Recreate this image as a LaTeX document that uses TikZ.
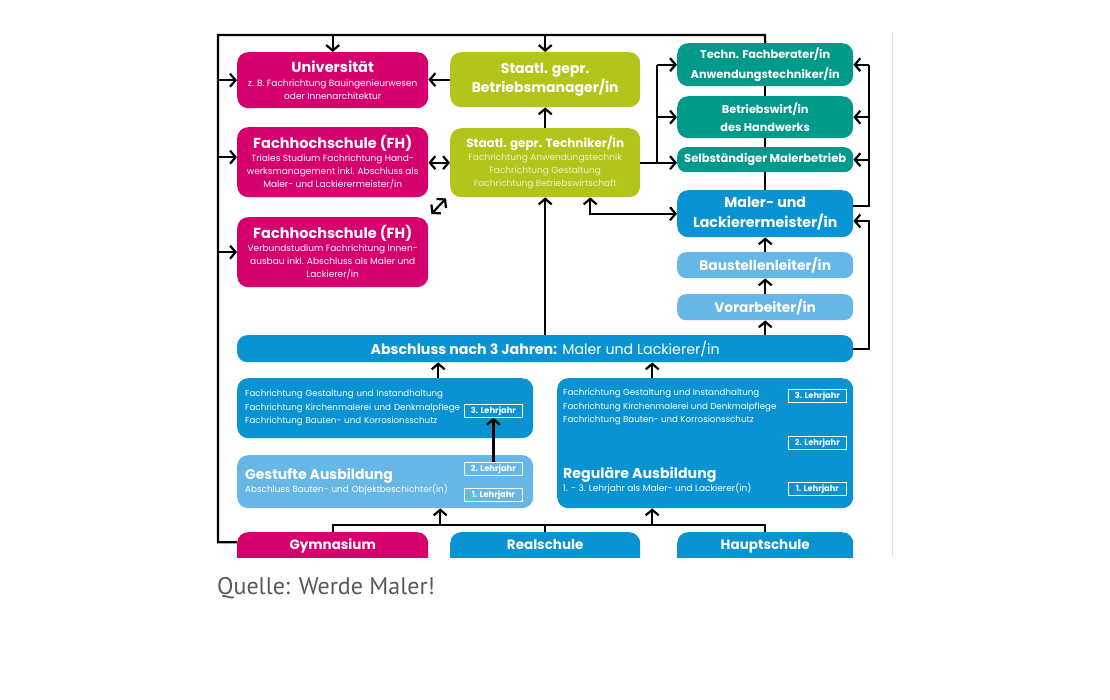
\documentclass[tikz,border=0pt]{standalone}
\usepackage{fontspec}
\setmainfont{Poppins}
\newfontfamily\quellefont{PT Sans}
\usetikzlibrary{arrows.meta}
\usetikzlibrary{positioning}
\definecolor{fhpink}{HTML}{D5006E}
\definecolor{gepgreen}{HTML}{B3C51B}
\definecolor{gepfaint}{HTML}{EEF3C6}
\definecolor{jobteal}{HTML}{009A8B}
\definecolor{azblue}{HTML}{0A93D2}
\definecolor{lightaz}{HTML}{66B7E6}
\definecolor{quellegray}{HTML}{58595B}
\newcommand{\boxtitle}{\fontsize{14.5}{17}\selectfont\bfseries}
\newcommand{\boxsmall}{\fontsize{9}{13}\selectfont}
\tikzset{%
  box/.style = {rectangle,rounded corners=11pt,anchor=north west,
        inner sep=0pt,align=center,text=white},
  pinkbox/.style = {box,fill=fhpink,font=\boxsmall},
  greenbox/.style = {box,fill=gepgreen},
  tealbox/.style = {box,fill=jobteal},
  bluebox/.style = {box,fill=azblue},
  lightbox/.style = {box,fill=lightaz},
  school/.style = {box,text height=17pt,text depth=23pt,
        font=\fontsize{13.5}{15}\selectfont\bfseries},
  jahr/.style = {rectangle,draw=white,line width=0.8pt,anchor=north west,
        inner sep=0pt,minimum width=58pt,minimum height=13pt,text=white,
        font=\fontsize{8.3}{9}\selectfont\bfseries},
  link/.style = {line width=2.2pt,black},
  arr/.style = {link,-{Straight Barb[length=5.5pt,width=13pt]}},
  darr/.style = {link,{Straight Barb[length=5.5pt,width=13pt]}-{Straight Barb[length=5.5pt,width=13pt]}}
}
\begin{document}
\begin{tikzpicture}[x=1pt,y=-1pt]
  \useasboundingbox[fill=white] (0,0) rectangle (1110,700);
  \draw[black!12,line width=0.8pt] (892,32) -- (892,557);
  % left column
  \node[pinkbox,minimum width=191pt,minimum height=56pt] (uni) at (237,52)
    {{\boxtitle Universität}\\[1pt]
     z. B. Fachrichtung Bauingenieurwesen\\oder Innenarchitektur};
  \node[pinkbox,minimum width=191pt,minimum height=70pt] (fh1) at (237,127)
    {{\boxtitle Fachhochschule (FH)}\\
     Triales Studium Fachrichtung Hand-\\
     werksmanagement inkl. Abschluss als\\Maler- und Lackierermeister/in};
  \node[pinkbox,minimum width=191pt,minimum height=70pt] (fh2) at (237,217)
    {{\boxtitle Fachhochschule (FH)}\\
     Verbundstudium Fachrichtung Innen-\\
     ausbau inkl. Abschluss als Maler und\\Lackierer/in};
  % middle column
  \node[greenbox,minimum width=190pt,minimum height=55pt,
    font=\fontsize{14}{19}\selectfont\bfseries] (manager) at (450,52)
    {Staatl. gepr.\\Betriebsmanager/in};
  \node[greenbox,minimum width=190pt,minimum height=69pt,text=gepfaint,
    font=\fontsize{9}{13}\selectfont] (tech) at (450,128)
    {{\color{white}\fontsize{12}{15}\selectfont\bfseries Staatl. gepr. Techniker/in}\\
     Fachrichtung Anwendungstechnik\\
     Fachrichtung Gestaltung\\
     Fachrichtung Betriebswirtschaft};
  % right column
  \node[tealbox,minimum width=176pt,minimum height=43pt,
    font=\fontsize{11.3}{19.5}\selectfont\bfseries] (fachb) at (677,43)
    {Techn. Fachberater/in\\Anwendungstechniker/in};
  \node[tealbox,minimum width=176pt,minimum height=42pt,
    font=\fontsize{11.3}{18}\selectfont\bfseries] (bwirt) at (677,96)
    {Betriebswirt/in\\des Handwerks};
  \node[tealbox,rounded corners=9pt,minimum width=176pt,minimum height=25pt,
    font=\fontsize{11.5}{13}\selectfont\bfseries] (selbst) at (677,147)
    {Selbständiger Malerbetrieb};
  \node[bluebox,minimum width=176pt,minimum height=47pt,
    font=\fontsize{14.2}{20}\selectfont\bfseries] (meister) at (677,190)
    {Maler- und\\Lackierermeister/in};
  \node[lightbox,rounded corners=9pt,minimum width=176pt,minimum height=26pt,
    font=\fontsize{13.8}{15}\selectfont\bfseries] (baust) at (677,252)
    {Baustellenleiter/in};
  \node[lightbox,rounded corners=9pt,minimum width=176pt,minimum height=26pt,
    font=\fontsize{13.8}{15}\selectfont\bfseries] (vorarb) at (677,294)
    {Vorarbeiter/in};
  \node[bluebox,rounded corners=10pt,minimum width=616pt,minimum height=27pt,
    font=\fontsize{14.2}{16}\selectfont] (abschl) at (237,335)
    {\textbf{Abschluss nach 3 Jahren:} Maler und Lackierer/in};
  % training
  \node[bluebox,align=left,text width=280pt,inner xsep=8pt,minimum height=60pt,
    font=\fontsize{8.7}{13.5}\selectfont] (gestTop) at (237,378)
    {Fachrichtung Gestaltung und Instandhaltung\\
     Fachrichtung Kirchenmalerei und Denkmalpflege\\
     Fachrichtung Bauten- und Korrosionsschutz};
  \node[lightbox,align=left,text width=280pt,inner xsep=8pt,minimum height=53pt,
    font=\fontsize{8.8}{12}\selectfont] (gestBot) at (237,455)
    {{\fontsize{14}{16}\selectfont\bfseries Gestufte Ausbildung}\\
     Abschluss Bauten- und Objektbeschichter(in)};
  \node[bluebox,minimum width=296pt,minimum height=130pt] (reg) at (557,378) {};
  \node[anchor=north west,inner sep=0pt,align=left,text=white,
    font=\fontsize{8.7}{13.5}\selectfont] (regText) at (563,389)
    {Fachrichtung Gestaltung und Instandhaltung\\
     Fachrichtung Kirchenmalerei und Denkmalpflege\\
     Fachrichtung Bauten- und Korrosionsschutz};
  \node[anchor=north west,inner sep=0pt,align=left,text=white,
    font=\fontsize{9}{12}\selectfont] (regTitle) at (563,467)
    {{\fontsize{14.2}{16}\selectfont\bfseries Reguläre Ausbildung}\\
     1. - 3. Lehrjahr als Maler- und Lackierer(in)};
  \node[jahr] (j3g) at (464,404) {3. Lehrjahr};
  \node[jahr] (j2g) at (464,462) {2. Lehrjahr};
  \node[jahr] (j1g) at (464,488) {1. Lehrjahr};
  \node[jahr] (j3r) at (788,389) {3. Lehrjahr};
  \node[jahr] (j2r) at (788,436) {2. Lehrjahr};
  \node[jahr] (j1r) at (788,482) {1. Lehrjahr};
  % schools, cut at the lower edge
  \begin{scope}
    \clip (0,0) rectangle (1110,557);
    \node[school,fill=fhpink,minimum width=191pt] (gym) at (237,532) {Gymnasium};
    \node[school,fill=azblue,minimum width=190pt] (real) at (450,532) {Realschule};
    \node[school,fill=azblue,minimum width=176pt] (haupt) at (677,532) {Hauptschule};
  \end{scope}
  \node[anchor=base west,inner sep=0pt,text=quellegray,
    font=\quellefont\fontsize{24}{26}\selectfont] (quelle) at (217,594)
    {Quelle: Werde Maler!};
  % connectors
  \coordinate (tl) at (218,35);
  \coordinate (tr) at (765,35);
  \coordinate (tj) at (657,0);
  \coordinate (rj) at (869,0);
  \coordinate (rm) at (869,221);
  \coordinate (bus) at (0,525);
  \coordinate (fh1in) at ([yshift=5pt]fh1.west);
  \coordinate (gymout) at ([yshift=10pt]gym.west);
  \draw[link] (gymout) -| (tl) -- (tr) -- (fachb.north);
  \draw[arr] (tl -| uni.north) -- (uni.north);
  \draw[arr] (tl -| manager.north) -- (manager.north);
  \draw[arr] (tl |- uni.west) -- (uni.west);
  \draw[arr] (tl |- fh1in) -- (fh1in);
  \draw[arr] (tl |- fh2.west) -- (fh2.west);
  \draw[link] (fachb.south) -- (bwirt.north);
  \draw[link] (bwirt.south) -- (selbst.north);
  \draw[link] (selbst.south) -- (meister.north);
  \draw[arr] (manager.west) -- (manager.west -| uni.east);
  \draw[arr] (tech.north) -- (manager.south);
  \draw[darr] (fh1.east |- tech.west) -- (tech.west);
  \draw[darr] ([shift={(3pt,3pt)}]fh2.north east) -- ([shift={(-4pt,-1pt)}]tech.south west);
  \draw[arr] (tech.east) -- (tech.east -| selbst.west);
  \draw[link] (tj |- tech.east) -- (tj |- fachb.west);
  \draw[arr] (tj |- fachb.west) -- (fachb.west);
  \draw[arr] (tj |- bwirt.west) -- (bwirt.west);
  \draw[darr] ([xshift=45pt]tech.south) |- (meister.west);
  \draw[arr] (abschl.north) -- (tech.south);
  \draw[arr] (abschl.north -| vorarb.south) -- (vorarb.south);
  \draw[arr] (vorarb.north) -- (baust.south);
  \draw[arr] (baust.north) -- (meister.south);
  \draw[link] ([yshift=8pt]meister.east) -| (rj |- fachb.east);
  \draw[arr] (rj |- fachb.east) -- (fachb.east);
  \draw[arr] (rj |- bwirt.east) -- (bwirt.east);
  \draw[arr] (rj |- selbst.east) -- (selbst.east);
  \draw[arr] (abschl.east) -| (rm) -- (rm -| meister.east);
  \draw[arr] ([xshift=53pt]gestTop.north) -- ([xshift=53pt]gestTop.north |- abschl.south);
  \draw[arr] ([xshift=-53pt]reg.north) -- ([xshift=-53pt]reg.north |- abschl.south);
  \draw[arr] (j2g.north) -- (j3g.south);
  \draw[link] (gym.north) -- (gym.north |- bus) -- (haupt.north |- bus) -- (haupt.north);
  \draw[link] (real.north) -- (real.north |- bus);
  \draw[arr] ([xshift=55pt]gestBot.south |- bus) -- ([xshift=55pt]gestBot.south);
  \draw[arr] ([xshift=-53pt]reg.south |- bus) -- ([xshift=-53pt]reg.south);
\end{tikzpicture}
\end{document}
